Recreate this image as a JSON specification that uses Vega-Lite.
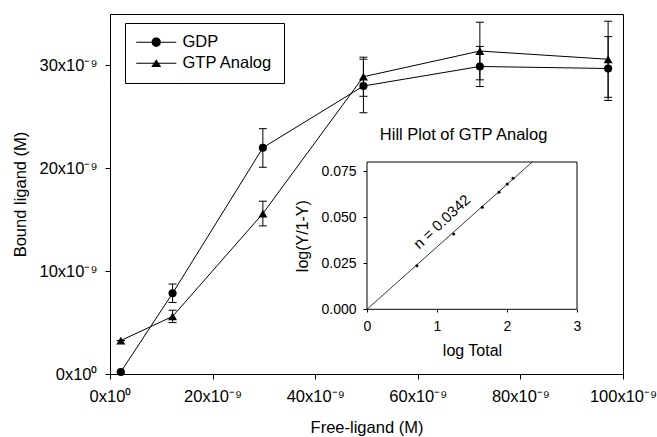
{
  "$schema": "https://vega.github.io/schema/vega-lite/v6.json",
  "width": 513,
  "height": 360,
  "autosize": {"type": "none"},
  "padding": {"left": 110, "top": 14, "right": 34, "bottom": 63},
  "background": "white",
  "config": {
    "font": "Liberation Sans",
    "view": {"stroke": "black", "strokeWidth": 1},
    "axis": {"grid": false, "domainColor": "black", "tickColor": "black", "labelColor": "black", "titleColor": "black", "titleFontWeight": "normal", "labelFont": "Liberation Sans", "titleFont": "Liberation Sans", "labelFlush": false, "labelOverlap": false}
  },
  "layer": [
    {
      "data": {"values": [
        {"series": "GDP", "free": 2.1e-9, "bound": 0.2e-9, "lo": 0.2e-9, "hi": 0.2e-9},
        {"series": "GDP", "free": 12.2e-9, "bound": 7.85e-9, "lo": 6.95e-9, "hi": 8.75e-9},
        {"series": "GDP", "free": 29.8e-9, "bound": 22.0e-9, "lo": 20.1e-9, "hi": 23.85e-9},
        {"series": "GDP", "free": 49.4e-9, "bound": 28.0e-9, "lo": 25.4e-9, "hi": 30.6e-9},
        {"series": "GDP", "free": 72.1e-9, "bound": 29.9e-9, "lo": 27.95e-9, "hi": 31.85e-9},
        {"series": "GDP", "free": 97.1e-9, "bound": 29.7e-9, "lo": 26.6e-9, "hi": 32.8e-9},
        {"series": "GTP Analog", "free": 2.1e-9, "bound": 3.25e-9, "lo": 3.25e-9, "hi": 3.25e-9},
        {"series": "GTP Analog", "free": 12.2e-9, "bound": 5.6e-9, "lo": 5.0e-9, "hi": 6.2e-9},
        {"series": "GTP Analog", "free": 29.8e-9, "bound": 15.6e-9, "lo": 14.4e-9, "hi": 16.8e-9},
        {"series": "GTP Analog", "free": 49.4e-9, "bound": 28.9e-9, "lo": 27.0e-9, "hi": 30.8e-9},
        {"series": "GTP Analog", "free": 72.1e-9, "bound": 31.4e-9, "lo": 28.6e-9, "hi": 34.2e-9},
        {"series": "GTP Analog", "free": 97.1e-9, "bound": 30.6e-9, "lo": 26.9e-9, "hi": 34.3e-9}
      ]},
      "layer": [
        {
          "mark": {"type": "rule", "color": "black", "strokeWidth": 1},
          "encoding": {
            "x": {"field": "free", "type": "quantitative", "title": "Free-ligand (M)",
              "scale": {"domain": [0, 1e-7], "nice": false, "zero": false},
              "axis": {"values": [0, 2e-8, 4e-8, 6e-8, 8e-8, 1e-7], "labelExpr": "datum.value == 0 ? '0x10⁰' : round(datum.value * 1e9) + 'x10⁻⁹'", "tickSize": 5, "labelPadding": 9, "labelFontSize": 16.5, "titleFontSize": 16.5, "titlePadding": 15, "domain": false}},
            "y": {"field": "lo", "type": "quantitative", "title": "Bound ligand (M)",
              "scale": {"domain": [0, 3.5e-8], "nice": false, "zero": false},
              "axis": {"values": [0, 1e-8, 2e-8, 3e-8], "labelExpr": "datum.value == 0 ? '0x10⁰' : round(datum.value * 1e9) + 'x10⁻⁹'", "tickSize": 5, "labelPadding": 8, "labelFontSize": 16.5, "titleFontSize": 16.5, "titlePadding": 10, "domain": false}},
            "y2": {"field": "hi"}
          }
        },
        {
          "mark": {"type": "point", "shape": "stroke", "size": 64, "color": "black", "filled": false, "strokeWidth": 1, "opacity": 1},
          "encoding": {
            "x": {"field": "free", "type": "quantitative", "title": "Free-ligand (M)"},
            "y": {"field": "lo", "type": "quantitative", "title": "Bound ligand (M)"}
          }
        },
        {
          "mark": {"type": "point", "shape": "stroke", "size": 64, "color": "black", "filled": false, "strokeWidth": 1, "opacity": 1},
          "encoding": {
            "x": {"field": "free", "type": "quantitative", "title": "Free-ligand (M)"},
            "y": {"field": "hi", "type": "quantitative", "title": "Bound ligand (M)"}
          }
        },
        {
          "mark": {"type": "line", "color": "black", "strokeWidth": 1},
          "encoding": {
            "x": {"field": "free", "type": "quantitative", "title": "Free-ligand (M)"},
            "y": {"field": "bound", "type": "quantitative", "title": "Bound ligand (M)"},
            "detail": {"field": "series"}
          }
        },
        {
          "transform": [{"filter": "datum.series === 'GDP'"}],
          "mark": {"type": "point", "shape": "circle", "filled": true, "color": "black", "opacity": 1, "strokeWidth": 0, "size": 66},
          "encoding": {
            "x": {"field": "free", "type": "quantitative", "title": "Free-ligand (M)"},
            "y": {"field": "bound", "type": "quantitative", "title": "Bound ligand (M)"}
          }
        },
        {
          "transform": [{"filter": "datum.series === 'GTP Analog'"}],
          "mark": {"type": "point", "shape": "triangle-up", "filled": true, "color": "black", "opacity": 1, "strokeWidth": 0, "size": 80},
          "encoding": {
            "x": {"field": "free", "type": "quantitative", "title": "Free-ligand (M)"},
            "y": {"field": "bound", "type": "quantitative", "title": "Bound ligand (M)"}
          }
        },
        {
          "mark": {"type": "point", "fill": "black", "stroke": "black", "strokeWidth": 1, "opacity": 0, "size": 100},
          "encoding": {
            "x": {"field": "free", "type": "quantitative", "title": "Free-ligand (M)"},
            "y": {"field": "bound", "type": "quantitative", "title": "Bound ligand (M)"},
            "shape": {"field": "series", "type": "nominal",
              "scale": {"domain": ["GDP", "GTP Analog"], "range": ["M-4,-0.1H4V0.1H-4ZM0.93,0A0.93,0.93,0,1,1,-0.93,0A0.93,0.93,0,1,1,0.93,0Z", "M-4,-0.1H4V0.1H-4ZM0,-0.8L1,0.75L-1,0.75Z"]},
              "legend": {"title": null, "orient": "none", "legendX": 15, "legendY": 9, "strokeColor": "black", "fillColor": "white", "padding": 11, "labelFontSize": 16.5, "labelColor": "black", "labelFont": "Liberation Sans", "labelExpr": "datum.label + '\u00a0\u00a0'", "symbolSize": 100, "symbolOffset": 12, "labelOffset": 18, "rowPadding": 4, "symbolOpacity": 1, "symbolFillColor": "black", "symbolStrokeColor": "black", "symbolStrokeWidth": 1}}
          }
        }
      ]
    },
    {
      "layer": [
        {
          "data": {"values": [{}]},
          "mark": {"type": "rect", "fill": "white", "stroke": "black", "strokeWidth": 1},
          "encoding": {
            "x": {"datum": 0, "type": "quantitative", "scale": {"domain": [0, 3], "range": [257, 467], "nice": false, "zero": false}},
            "x2": {"datum": 3},
            "y": {"datum": 0, "type": "quantitative", "scale": {"domain": [0, 0.08], "range": [295.3, 148], "nice": false, "zero": false}},
            "y2": {"datum": 0.08}
          }
        },
        {
          "data": {"values": [{"logTotal": 0.0, "logY": 0.0}, {"logTotal": 2.36, "logY": 0.08}]},
          "mark": {"type": "line", "color": "black", "strokeWidth": 0.8},
          "encoding": {
            "x": {"field": "logTotal", "type": "quantitative", "title": "log Total"},
            "y": {"field": "logY", "type": "quantitative", "title": "log(Y/1-Y)"}
          }
        },
        {
          "data": {"values": [
            {"logTotal": 0.714, "logY": 0.0237},
            {"logTotal": 1.238, "logY": 0.0409},
            {"logTotal": 1.647, "logY": 0.0554},
            {"logTotal": 1.886, "logY": 0.0636},
            {"logTotal": 2.004, "logY": 0.0681},
            {"logTotal": 2.086, "logY": 0.0712}
          ]},
          "mark": {"type": "point", "filled": true, "color": "black", "size": 9, "opacity": 1},
          "encoding": {
            "x": {"field": "logTotal", "type": "quantitative", "title": "log Total",
              "axis": {"orient": "bottom", "offset": -65, "values": [0, 1, 2, 3], "format": "d", "domain": false, "tickSize": 3, "labelPadding": 7, "labelFontSize": 14, "titleFontSize": 16, "titlePadding": 9}},
            "y": {"field": "logY", "type": "quantitative", "title": "log(Y/1-Y)",
              "axis": {"orient": "left", "offset": -257, "values": [0, 0.025, 0.05, 0.075], "format": ".3f", "domain": false, "tickSize": 4, "labelPadding": 7, "labelFontSize": 14, "titleFontSize": 16, "titlePadding": 10}}
          }
        },
        {
          "data": {"values": [{"label": "n = 0.0342"}]},
          "mark": {"type": "text", "angle": 317, "fontSize": 15, "color": "black", "font": "Liberation Sans"},
          "encoding": {
            "x": {"datum": 1.07},
            "y": {"datum": 0.0476},
            "text": {"field": "label"}
          }
        },
        {
          "data": {"values": [{"label": "Hill Plot of GTP Analog"}]},
          "mark": {"type": "text", "fontSize": 16.5, "color": "black", "font": "Liberation Sans"},
          "encoding": {
            "x": {"datum": 1.38},
            "y": {"datum": 0.0947},
            "text": {"field": "label"}
          }
        }
      ]
    }
  ],
  "resolve": {"scale": {"x": "independent", "y": "independent"}, "axis": {"x": "independent", "y": "independent"}}
}
